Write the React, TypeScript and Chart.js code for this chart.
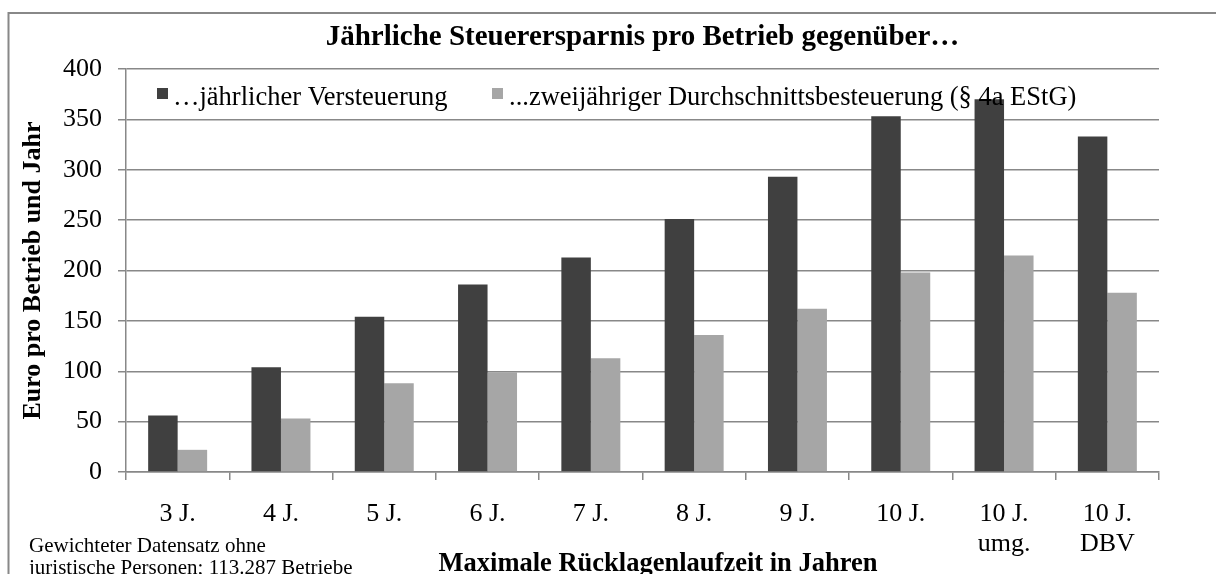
import React, { useEffect, useRef } from "react";
import { Chart, registerables } from "chart.js";

Chart.register(...registerables);

const categories: string[][] = [
  ["3 J."],
  ["4 J."],
  ["5 J."],
  ["6 J."],
  ["7 J."],
  ["8 J."],
  ["9 J."],
  ["10 J."],
  ["10 J.", "umg."],
  ["10 J.", "DBV"],
];
const seriesAnnual = [56, 104, 154, 186, 213, 251, 293, 353, 370, 333];
const seriesTwoYear = [22, 53, 88, 99, 113, 136, 162, 198, 215, 178];
const seriesNames = [
  "…jährlicher Versteuerung",
  "...zweijähriger Durchschnittsbesteuerung (§ 4a EStG)",
];
const seriesColors = ["#404040", "#a6a6a6"];
const yMin = 0;
const yMax = 400;
const yStep = 50;
const chartTitle = "Jährliche Steuerersparnis pro Betrieb gegenüber…";
const yTitle = "Euro pro Betrieb und Jahr";
const xTitle = "Maximale Rücklagenlaufzeit in Jahren";
const footnote = ["Gewichteter Datensatz ohne", "juristische Personen; 113.287 Betriebe"];

const SERIF = '"Liberation Serif", "Times New Roman", serif';
const GRID = "#888888";

const decorPlugin = {
  id: "decor",
  beforeDraw(chart: any) {
    const ctx = chart.ctx;
    ctx.save();
    ctx.fillStyle = "#ffffff";
    ctx.fillRect(0, 0, chart.width, chart.height);
    ctx.strokeStyle = GRID;
    ctx.lineWidth = 2;
    ctx.strokeRect(8.5, 13, chart.width + 50, chart.height + 50);
    ctx.restore();
  },
  afterDraw(chart: any) {
    const ctx = chart.ctx;
    const { left, right, top, bottom } = chart.chartArea;
    ctx.save();
    ctx.fillStyle = "#000";

    // Title
    ctx.font = `bold 29px ${SERIF}`;
    ctx.textAlign = "center";
    ctx.textBaseline = "alphabetic";
    ctx.fillText(chartTitle, (left + right) / 2, 45);

    // Legend
    ctx.font = `26.5px ${SERIF}`;
    ctx.textAlign = "left";
    const legendItems = [
      { mx: 157, tx: 173 },
      { mx: 492, tx: 509 },
    ];
    chart.data.datasets.forEach((ds: any, i: number) => {
      const it = legendItems[i];
      ctx.fillStyle = ds.backgroundColor;
      ctx.fillRect(it.mx, 88, 11, 11);
      ctx.fillStyle = "#000";
      ctx.fillText(ds.label, it.tx, 105);
    });

    // Y axis title
    ctx.save();
    ctx.translate(33, (top + bottom) / 2);
    ctx.rotate(-Math.PI / 2);
    ctx.font = `bold 26px ${SERIF}`;
    ctx.textAlign = "center";
    ctx.textBaseline = "middle";
    ctx.fillText(yTitle, 0, 0);
    ctx.restore();

    // X axis title
    ctx.font = `bold 26.5px ${SERIF}`;
    ctx.textAlign = "center";
    ctx.textBaseline = "alphabetic";
    ctx.fillText(xTitle, 658, 571);

    // Footnote
    ctx.font = `21px ${SERIF}`;
    ctx.textAlign = "left";
    ctx.fillText(footnote[0], 29, 552);
    ctx.fillText(footnote[1], 29, 574);

    ctx.restore();
  },
};

export default function App() {
  const canvasRef = useRef<HTMLCanvasElement | null>(null);

  useEffect(() => {
    if (!canvasRef.current) return;
    const chart = new Chart(canvasRef.current, {
      type: "bar",
      data: {
        labels: categories,
        datasets: [
          {
            label: seriesNames[0],
            data: seriesAnnual,
            backgroundColor: seriesColors[0],
            borderWidth: 0,
          },
          {
            label: seriesNames[1],
            data: seriesTwoYear,
            backgroundColor: seriesColors[1],
            borderWidth: 0,
          },
        ],
      },
      options: {
        responsive: false,
        animation: false,
        devicePixelRatio: 1,
        layout: { padding: { left: 0, top: 69, right: 57, bottom: 0 } },
        datasets: {
          bar: { categoryPercentage: 0.571, barPercentage: 1.0 },
        },
        plugins: {
          legend: { display: false },
          title: { display: false },
          tooltip: { enabled: false },
        },
        scales: {
          x: {
            afterFit: (s: any) => {
              s.height = 102;
            },
            grid: {
              display: true,
              drawOnChartArea: false,
              drawTicks: true,
              tickLength: 8,
              color: GRID,
              lineWidth: 1.5,
              offset: true,
            },
            border: { display: true, color: GRID, width: 1.5 },
            ticks: {
              autoSkip: false,
              maxRotation: 0,
              minRotation: 0,
              padding: 19,
              color: "#000",
              font: { family: SERIF, size: 26, lineHeight: 1.15 },
            },
          },
          y: {
            min: yMin,
            max: yMax,
            afterFit: (s: any) => {
              s.width = 126;
            },
            grid: {
              color: GRID,
              lineWidth: 1.5,
              drawTicks: true,
              tickLength: 8,
            },
            border: { display: true, color: GRID, width: 1.5 },
            ticks: {
              stepSize: yStep,
              padding: 16,
              color: "#000",
              font: { family: SERIF, size: 26 },
            },
          },
        },
      },
      plugins: [decorPlugin],
    });
    return () => chart.destroy();
  }, []);

  return (
    <div style={{ position: "absolute", left: 0, top: 0, width: 1216, height: 574 }}>
      <canvas ref={canvasRef} width={1216} height={574} style={{ display: "block" }} />
    </div>
  );
}
